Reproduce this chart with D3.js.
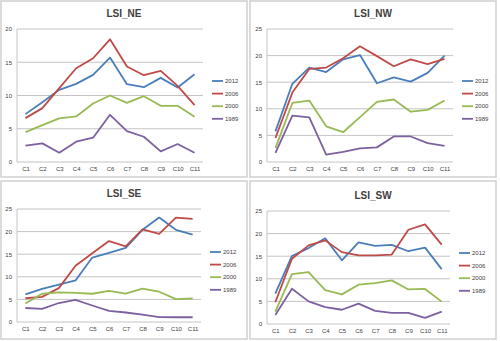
<!DOCTYPE html>
<html>
<head>
<meta charset="utf-8">
<script src="https://cdn.jsdelivr.net/npm/d3@7"></script>
<style>
  html, body { margin: 0; padding: 0; background: #fff; }
  svg { display: block; }
  text { font-family: "Liberation Sans", Arial, sans-serif; fill: #404040; }
</style>
</head>
<body>
<svg id="chart" width="500" height="341"></svg>
<script>
// Categories and series
const categories = ["C1", "C2", "C3", "C4", "C5", "C6", "C7", "C8", "C9", "C10", "C11"];
const years = ["2012", "2006", "2000", "1989"];

// LSI_NE
const ne2012 = [7.2, 9.0, 10.85, 11.75, 13.1, 15.7, 11.7, 11.25, 12.65, 11.2, 13.2];
const ne2006 = [6.6, 8.1, 11.1, 14.1, 15.6, 18.45, 14.35, 13.05, 13.7, 11.45, 8.55];
const ne2000 = [4.5, 5.55, 6.55, 6.85, 8.8, 10.0, 8.9, 9.9, 8.45, 8.45, 6.8];
const ne1989 = [2.45, 2.8, 1.4, 3.05, 3.65, 7.1, 4.65, 3.8, 1.6, 2.7, 1.4];

// LSI_NW
const nw2012 = [5.75, 14.7, 17.75, 16.9, 19.3, 20.1, 14.8, 15.9, 15.1, 16.75, 20.0];
const nw2006 = [4.5, 13.05, 17.5, 17.75, 19.5, 21.75, 19.9, 18.0, 19.3, 18.4, 19.4];
const nw2000 = [2.6, 11.1, 11.55, 6.7, 5.6, 8.45, 11.3, 11.75, 9.45, 9.8, 11.55];
const nw1989 = [1.7, 8.7, 8.4, 1.4, 1.9, 2.55, 2.75, 4.8, 4.8, 3.55, 3.05];

// LSI_SE
const se2012 = [6.1, 7.35, 8.25, 9.2, 14.25, 15.3, 16.4, 20.4, 23.1, 20.4, 19.35];
const se2006 = [5.25, 5.55, 7.5, 12.45, 15.2, 17.9, 16.75, 20.5, 19.5, 23.1, 22.8];
const se2000 = [4.1, 6.25, 6.55, 6.45, 6.25, 6.9, 6.3, 7.4, 6.7, 5.05, 5.2];
const se1989 = [3.1, 2.9, 4.2, 4.9, 3.65, 2.45, 2.1, 1.65, 1.1, 1.05, 1.05];

// LSI_SW
const sw2012 = [6.7, 15.05, 16.8, 18.95, 14.1, 18.05, 17.3, 17.5, 16.1, 16.9, 12.15];
const sw2006 = [4.8, 14.45, 17.4, 18.5, 15.9, 15.2, 15.2, 15.35, 20.85, 22.05, 17.55];
const sw2000 = [2.75, 11.05, 11.5, 7.5, 6.55, 8.7, 9.05, 9.65, 7.65, 7.75, 4.95];
const sw1989 = [2.0, 7.8, 5.0, 3.75, 3.15, 4.5, 2.9, 2.45, 2.45, 1.35, 2.75];

const neTicks = [0, 5, 10, 15, 20];
const bigTicks = [0, 5, 10, 15, 20, 25];

const colors = {
  "2012": "#4a7ebb",
  "2006": "#be4b48",
  "2000": "#98b954",
  "1989": "#7d60a0",
};

// Panel layout (box = border, plot = inner plot area)
const panels = [
  { title: "LSI_NE", series: [ne2012, ne2006, ne2000, ne1989], ticks: neTicks,
    box: [1, 1, 247, 177], plot: [17, 29, 203, 162], titleY: 17, legendY: 81 },
  { title: "LSI_NW", series: [nw2012, nw2006, nw2000, nw1989], ticks: bigTicks,
    box: [250, 1, 496, 177], plot: [267, 29, 453, 162], titleY: 17, legendY: 81 },
  { title: "LSI_SE", series: [se2012, se2006, se2000, se1989], ticks: bigTicks,
    box: [1, 181, 247, 339], plot: [17, 209, 201, 322], titleY: 197, legendY: 252 },
  { title: "LSI_SW", series: [sw2012, sw2006, sw2000, sw1989], ticks: bigTicks,
    box: [250, 181, 496, 339], plot: [267, 211, 450, 324], titleY: 199, legendY: 253 },
];

const svg = d3.select("#chart");

function drawPanel(p) {
  const [bx0, by0, bx1, by1] = p.box;
  const [px0, py0, px1, py1] = p.plot;
  const g = svg.append("g");

  g.append("rect")
    .attr("x", bx0).attr("y", by0)
    .attr("width", bx1 - bx0).attr("height", by1 - by0)
    .attr("fill", "#fff")
    .attr("stroke", "#d0d0d0")
    .attr("stroke-width", 1.5);

  const x = d3.scalePoint().domain(categories).range([px0, px1]).padding(0.5);
  const y = d3.scaleLinear()
    .domain([0, d3.max(p.ticks)])
    .range([py1, py0]);

  // gridlines
  g.append("g")
    .selectAll("line")
    .data(p.ticks)
    .join("line")
    .attr("x1", px0).attr("x2", px1)
    .attr("y1", (d) => y(d)).attr("y2", (d) => y(d))
    .attr("stroke", "#c4c4c4")
    .attr("stroke-width", 1);

  // left axis line
  g.append("line")
    .attr("x1", px0).attr("x2", px0)
    .attr("y1", py0).attr("y2", py1)
    .attr("stroke", "#c4c4c4");

  // y tick labels
  const yAxis = d3.axisLeft(y).tickValues(p.ticks).tickSize(0).tickPadding(5);
  const ya = g.append("g").attr("transform", `translate(${px0},0)`).call(yAxis);
  ya.select(".domain").remove();
  ya.selectAll("text")
    .attr("font-size", 6)
    .attr("fill", "#505050")
    .attr("font-family", "Liberation Sans, Arial, sans-serif");

  // x tick labels
  const xAxis = d3.axisBottom(x).tickSize(0).tickPadding(5);
  const xa = g.append("g").attr("transform", `translate(0,${py1})`).call(xAxis);
  xa.select(".domain").remove();
  xa.selectAll("text")
    .attr("font-size", 6)
    .attr("fill", "#505050")
    .attr("font-family", "Liberation Sans, Arial, sans-serif");

  // lines
  const line = d3.line()
    .x((d, i) => x(categories[i]))
    .y((d) => y(d));

  p.series.forEach((vals, k) => {
    g.append("path")
      .datum(vals)
      .attr("d", line)
      .attr("fill", "none")
      .attr("stroke", colors[years[k]])
      .attr("stroke-width", 1.8)
      .attr("stroke-linejoin", "round");
  });

  // title
  g.append("text")
    .attr("x", (bx0 + bx1) / 2)
    .attr("y", p.titleY)
    .attr("text-anchor", "middle")
    .attr("font-size", 10)
    .attr("font-weight", "bold")
    .attr("fill", "#000")
    .text(p.title);

  // legend
  const leg = g.append("g").attr("transform", `translate(${px1 + 9},${p.legendY})`);
  years.forEach((yr, k) => {
    const row = leg.append("g").attr("transform", `translate(0,${k * 12.6})`);
    row.append("line")
      .attr("x1", 0).attr("x2", 11)
      .attr("stroke", colors[yr])
      .attr("stroke-width", 1.8);
    row.append("text")
      .attr("x", 13)
      .attr("dy", "0.35em")
      .attr("font-size", 6)
      .attr("fill", "#404040")
      .text(yr);
  });
}

panels.forEach(drawPanel);
</script>
</body>
</html>
